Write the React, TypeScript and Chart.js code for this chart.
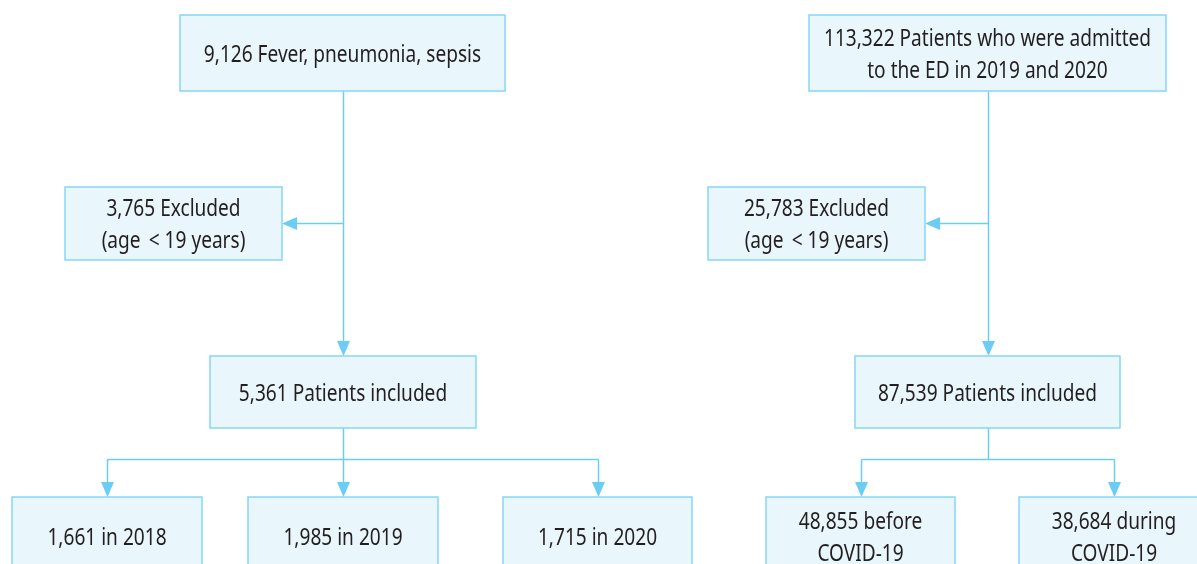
import React, { useEffect, useRef } from "react";
import { Chart, registerables } from "chart.js";

Chart.register(...registerables);

// ---- Data (flowchart content) ----
const leftCounts = ["9,126", "3,765", "5,361", "1,661", "1,985", "1,715"];
const leftTexts = [
  ["Fever, pneumonia, sepsis"],
  ["Excluded", "(age \u2009< 19 years)"],
  ["Patients included"],
  ["in 2018"],
  ["in 2019"],
  ["in 2020"],
];
const rightCounts = ["113,322", "25,783", "87,539", "48,855", "38,684"];
const rightTexts = [
  ["Patients who were admitted", "to the ED in 2019 and 2020"],
  ["Excluded", "(age \u2009< 19 years)"],
  ["Patients included"],
  ["before", "COVID-19"],
  ["during", "COVID-19"],
];

// ---- Layout (positions in axis units; page pixels) ----
// [x0, x1, y0, y1]
const leftBoxes = [
  [180, 505, 15, 91],
  [65, 282, 187, 260],
  [210, 476, 356, 428],
  [12, 202, 497, 575],
  [248, 438, 497, 575],
  [503, 692, 497, 575],
];
const rightBoxes = [
  [809, 1166, 15, 91],
  [708, 925, 187, 260],
  [855, 1120, 356, 428],
  [766, 955, 497, 575],
  [1019, 1209, 497, 575],
];
// trunk: [from, to, side]; branch: [parent, children...]
const leftTrunk = [0, 2, 1];
const leftBranch = [2, 3, 4, 5];
const rightTrunk = [0, 2, 1];
const rightBranch = [2, 3, 4];

const FILL = "#e9f6fc";
const BORDER = "#86d6f5";
const LINE = "#6ccdf4";
const TEXT = "#231f20";
const FONT = "23px 'Noto Sans', sans-serif";
const X_SCALE = 0.83;
const LINE_H = 32;
const TEXT_DY = 2;

function buildLabels(counts: string[], texts: string[][]) {
  return counts.map((c, i) => {
    const t = texts[i];
    return [c + " " + t[0], ...t.slice(1)];
  });
}

const leftLabels = buildLabels(leftCounts, leftTexts);
const rightLabels = buildLabels(rightCounts, rightTexts);

function drawGroup(chart: any, boxes: number[][], labels: string[][], trunk: number[], branch: number[]) {
  const ctx = chart.ctx as CanvasRenderingContext2D;
  const xs = chart.scales.x;
  const ys = chart.scales.y;
  const px = (v: number) => xs.getPixelForValue(v);
  const py = (v: number) => ys.getPixelForValue(v);
  const box = (i: number) => {
    const b = boxes[i];
    return { x0: px(b[0]), x1: px(b[1]), y0: py(b[2]), y1: py(b[3]) };
  };
  const AW = 6.5, AH = 15;
  const arrowDown = (x: number, yTip: number) => {
    ctx.beginPath();
    ctx.moveTo(x, yTip);
    ctx.lineTo(x - AW, yTip - AH);
    ctx.lineTo(x + AW, yTip - AH);
    ctx.closePath();
    ctx.fill();
  };
  const arrowLeft = (xTip: number, y: number) => {
    ctx.beginPath();
    ctx.moveTo(xTip, y);
    ctx.lineTo(xTip + AH, y - AW);
    ctx.lineTo(xTip + AH, y + AW);
    ctx.closePath();
    ctx.fill();
  };

  ctx.save();
  ctx.strokeStyle = LINE;
  ctx.fillStyle = LINE;
  ctx.lineWidth = 1.5;

  // trunk
  const a = box(trunk[0]);
  const b = box(trunk[1]);
  const s = box(trunk[2]);
  const tx = Math.round((a.x0 + a.x1) / 2) + 0.5;
  ctx.beginPath();
  ctx.moveTo(tx, a.y1);
  ctx.lineTo(tx, b.y0 - AH + 1);
  ctx.stroke();
  arrowDown(tx, b.y0);
  const sy = (s.y0 + s.y1) / 2;
  ctx.beginPath();
  ctx.moveTo(tx, sy);
  ctx.lineTo(s.x1 + AH - 1, sy);
  ctx.stroke();
  arrowLeft(s.x1, sy);

  // branch
  const p = box(branch[0]);
  const kids = branch.slice(1).map(box);
  const bx = Math.round((p.x0 + p.x1) / 2) + 0.5;
  const by = Math.round((p.y1 + kids[0].y0) / 2 - 3.5) + 0.5;
  ctx.beginPath();
  ctx.moveTo(bx, p.y1);
  ctx.lineTo(bx, by);
  ctx.stroke();
  const cxs = kids.map((k) => Math.round((k.x0 + k.x1) / 2));
  ctx.beginPath();
  ctx.moveTo(Math.min(...cxs) + 0.5, by);
  ctx.lineTo(Math.max(...cxs) + 0.5, by);
  ctx.stroke();
  kids.forEach((k, i) => {
    const cx = cxs[i] + 0.5;
    ctx.beginPath();
    ctx.moveTo(cx, by);
    ctx.lineTo(cx, k.y0 - AH + 1);
    ctx.stroke();
    arrowDown(cx, k.y0);
  });

  // boxes
  boxes.forEach((_, i) => {
    const r = box(i);
    ctx.fillStyle = FILL;
    ctx.fillRect(r.x0, r.y0, r.x1 - r.x0, r.y1 - r.y0);
    ctx.strokeStyle = BORDER;
    ctx.lineWidth = 1.5;
    ctx.strokeRect(r.x0, r.y0, r.x1 - r.x0, r.y1 - r.y0);
    const lines = labels[i];
    ctx.fillStyle = TEXT;
    ctx.font = FONT;
    ctx.textAlign = "center";
    ctx.textBaseline = "middle";
    const cx = (r.x0 + r.x1) / 2;
    const cy = (r.y0 + r.y1) / 2 + TEXT_DY;
    lines.forEach((ln, j) => {
      const yy = cy + (j - (lines.length - 1) / 2) * LINE_H;
      ctx.save();
      ctx.translate(cx, yy);
      ctx.scale(X_SCALE, 1);
      ctx.fillText(ln, 0, 0);
      ctx.restore();
    });
  });
  ctx.restore();
}

const flowPlugin = {
  id: "flowchart",
  afterDraw(chart: any) {
    drawGroup(chart, leftBoxes, leftLabels, leftTrunk, leftBranch);
    drawGroup(chart, rightBoxes, rightLabels, rightTrunk, rightBranch);
  },
};

export default function App() {
  const ref = useRef<HTMLCanvasElement | null>(null);
  useEffect(() => {
    document.body.style.margin = "0";
    const canvas = ref.current!;
    const centers = [...leftBoxes, ...rightBoxes].map((b) => ({ x: (b[0] + b[1]) / 2, y: (b[2] + b[3]) / 2 }));
    const chart = new Chart(canvas, {
      type: "scatter",
      data: {
        datasets: [
          {
            data: centers,
            pointRadius: 0,
            pointHoverRadius: 0,
          },
        ],
      },
      options: {
        animation: false,
        responsive: false,
        maintainAspectRatio: false,
        layout: { padding: 0 },
        plugins: { legend: { display: false }, tooltip: { enabled: false } },
        events: [],
        scales: {
          x: { type: "linear", min: 0, max: 1197, display: false },
          y: { type: "linear", min: 0, max: 564, reverse: true, display: false },
        },
      },
      plugins: [flowPlugin],
    });
    return () => chart.destroy();
  }, []);
  return (
    <div style={{ width: 1197, height: 564, background: "#fff" }}>
      <canvas ref={ref} width={1197} height={564} style={{ display: "block" }} />
    </div>
  );
}
